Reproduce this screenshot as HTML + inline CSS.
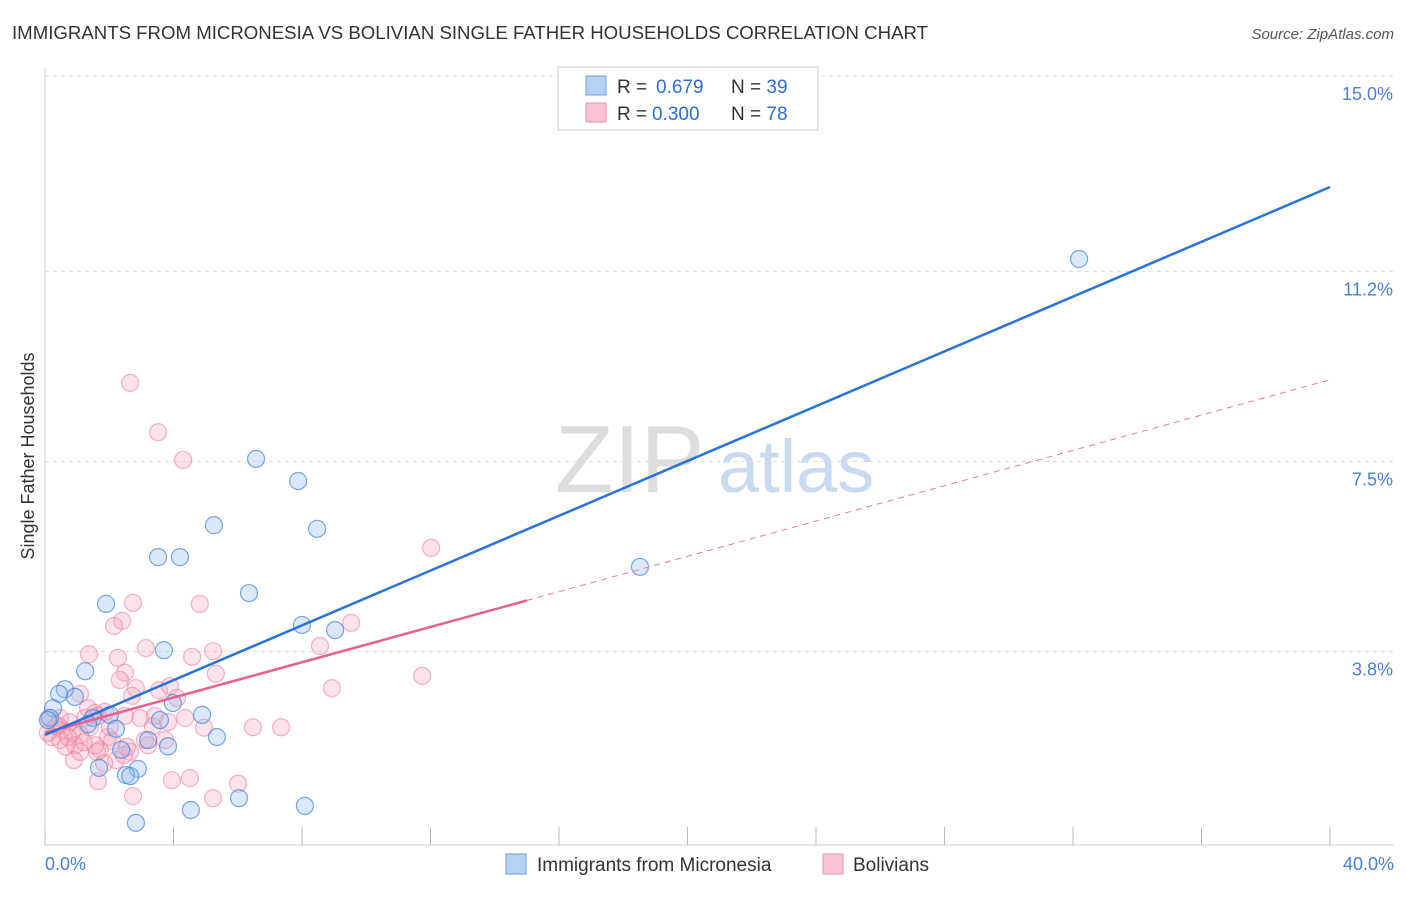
<!DOCTYPE html>
<html><head><meta charset="utf-8"><style>
body{margin:0;background:#fff;font-family:"Liberation Sans",sans-serif}
svg text{font-family:"Liberation Sans",sans-serif}
</style></head><body>
<svg width="1406" height="892">
<text x="12" y="39" font-size="18" fill="#333" textLength="916" lengthAdjust="spacingAndGlyphs">IMMIGRANTS FROM MICRONESIA VS BOLIVIAN SINGLE FATHER HOUSEHOLDS CORRELATION CHART</text>
<text x="1394" y="39" font-size="15" fill="#555" font-style="italic" text-anchor="end">Source: ZipAtlas.com</text>
<text x="555" y="492" font-size="96" fill="#ddd" font-family="Liberation Serif">ZIP</text>
<text x="718" y="492" font-size="74" fill="#c9d9f0">atlas</text>
<g id="grid"></g>
<line x1="45" y1="68" x2="45" y2="845" stroke="#ccc"/>
<line x1="45" y1="845" x2="1394" y2="845" stroke="#ccc"/>
<g id="xticks"></g>
<g id="pts"></g>
<g id="lines"></g>
<text x="34" y="456" font-size="18" fill="#333" text-anchor="middle" transform="rotate(-90 34 456)">Single Father Households</text>
<text x="45" y="870" font-size="18" fill="#4a7fd4">0.0%</text>
<text x="1394" y="870" font-size="18" fill="#4a7fd4" text-anchor="end">40.0%</text>
<g>
<rect x="558" y="67" width="260" height="63" fill="#fff" stroke="#ccc"/>
<rect x="586" y="76" width="20" height="19" fill="#b8d0f3" stroke="#6a9ae0"/>
<rect x="586" y="103" width="20" height="19" fill="#f9c3d3" stroke="#ec93ad"/>
<text x="617" y="93" font-size="19" fill="#333">R = <tspan x="656" fill="#2a6fd6">0.679</tspan><tspan x="731">N = </tspan><tspan fill="#2a6fd6">39</tspan></text>
<text x="617" y="120" font-size="19" fill="#333">R = <tspan x="652" fill="#2a6fd6">0.300</tspan><tspan x="731">N = </tspan><tspan fill="#2a6fd6">78</tspan></text>
</g>
<g>
<rect x="506" y="854" width="20" height="20" fill="#b8d0f3" stroke="#6a9ae0"/>
<text x="537" y="871" font-size="19" fill="#333">Immigrants from Micronesia</text>
<rect x="823" y="854" width="20" height="20" fill="#f9c3d3" stroke="#ec93ad"/>
<text x="853" y="871" font-size="19" fill="#333">Bolivians</text>
</g>
</svg>
<script>
const yTicks=[15,11.2,7.5,3.8];
const yTickLabels=["15.0%","11.2%","7.5%","3.8%"];
const xTickVals=[0,4,8,12,16,20,24,28,32,36,40];
const bluePx=[[1079,259],[256,459],[298,481],[214,525],[317,529],[158,557],[180,557],[640,567],[249,593],[106,604],[302,625],[335,630],[164,650],[85,671],[65,689],[59,694],[75,697],[53,708],[173,703],[202,715],[93,718],[110,715],[50,718],[88,724],[116,729],[217,737],[148,740],[121,750],[168,746],[99,768],[138,769],[126,775],[130,776],[239,798],[191,810],[305,806],[136,823],[48,720],[160,720]];
const pinkPx=[[130,383],[158,432],[183,460],[431,548],[133,603],[200,604],[122,621],[114,626],[351,623],[89,654],[146,648],[213,651],[118,658],[192,657],[320,646],[216,674],[422,676],[125,673],[332,688],[120,680],[159,690],[170,686],[136,688],[132,696],[177,698],[80,694],[49,718],[58,725],[70,722],[85,718],[95,713],[105,712],[88,708],[98,716],[125,716],[140,718],[155,716],[185,718],[168,722],[153,726],[204,728],[253,727],[281,727],[62,730],[72,733],[52,737],[60,740],[80,735],[108,737],[112,741],[75,745],[100,750],[66,747],[80,752],[127,747],[148,745],[116,760],[97,752],[104,763],[74,760],[130,752],[124,755],[98,781],[190,778],[172,780],[238,784],[133,796],[213,798],[145,740],[165,740],[56,726],[48,733],[90,727],[68,737],[110,727],[95,745],[60,718],[84,742]];
const blueX=bluePx.map(p=>+((p[0]-45)/32.125).toFixed(2)), blueY=bluePx.map(p=>+((847-p[1])/51.4).toFixed(2));
const pinkX=pinkPx.map(p=>+((p[0]-45)/32.125).toFixed(2)), pinkY=pinkPx.map(p=>+((847-p[1])/51.4).toFixed(2));
const blueTrend=[2.18,12.84];
const pinkTrend=[2.22,9.09];
const pinkSolidEnd=15;
const sx=v=>45+v*32.125, sy=v=>847-v*51.4;
const NS="http://www.w3.org/2000/svg";
function mk(t,a,p){const e=document.createElementNS(NS,t);for(const k in a)e.setAttribute(k,a[k]);p.appendChild(e);return e;}
const grid=document.getElementById('grid');
yTicks.forEach((v,i)=>{
 const l=mk('line',{x1:45,x2:1394,y1:sy(v),y2:sy(v),stroke:'#ddd','stroke-dasharray':'4,4'},grid);
 
 
 const t=mk('text',{x:1393,y:sy(v)+24,'font-size':18,fill:'#4a7fd4','text-anchor':'end'},grid);t.textContent=yTickLabels[i];
 
 
});
const xt=document.getElementById('xticks');
xTickVals.forEach(v=>{const l=mk('line',{x1:sx(v),x2:sx(v),y1:827,y2:845,stroke:'#bbb'},xt);
 
 });
const pts=document.getElementById('pts');
pinkX.forEach((x,i)=>{const c=mk('circle',{cx:sx(x),cy:sy(pinkY[i]),r:8.5,fill:'rgba(244,160,185,0.3)',stroke:'rgba(236,130,160,0.6)','stroke-width':1.2},pts);
 
 });
blueX.forEach((x,i)=>{const c=mk('circle',{cx:sx(x),cy:sy(blueY[i]),r:8.5,fill:'rgba(150,190,240,0.35)',stroke:'rgba(70,130,215,0.7)','stroke-width':1.2},pts);
 
 });
const ln=document.getElementById('lines');
const py=x=>pinkTrend[0]+(pinkTrend[1]-pinkTrend[0])*x/40;
let a=mk('line',{x1:sx(pinkSolidEnd),y1:sy(py(pinkSolidEnd)),x2:sx(40),y2:sy(py(40)),stroke:'#e8799c','stroke-width':1,'stroke-dasharray':'6,5'},ln);


a=mk('line',{x1:sx(0),y1:sy(py(0)),x2:sx(pinkSolidEnd),y2:sy(py(pinkSolidEnd)),stroke:'#e8608c','stroke-width':2.5},ln);


a=mk('line',{x1:sx(0),y1:sy(blueTrend[0]),x2:sx(40),y2:sy(blueTrend[1]),stroke:'#2a72d8','stroke-width':2.5},ln);


</script>
</body></html>
